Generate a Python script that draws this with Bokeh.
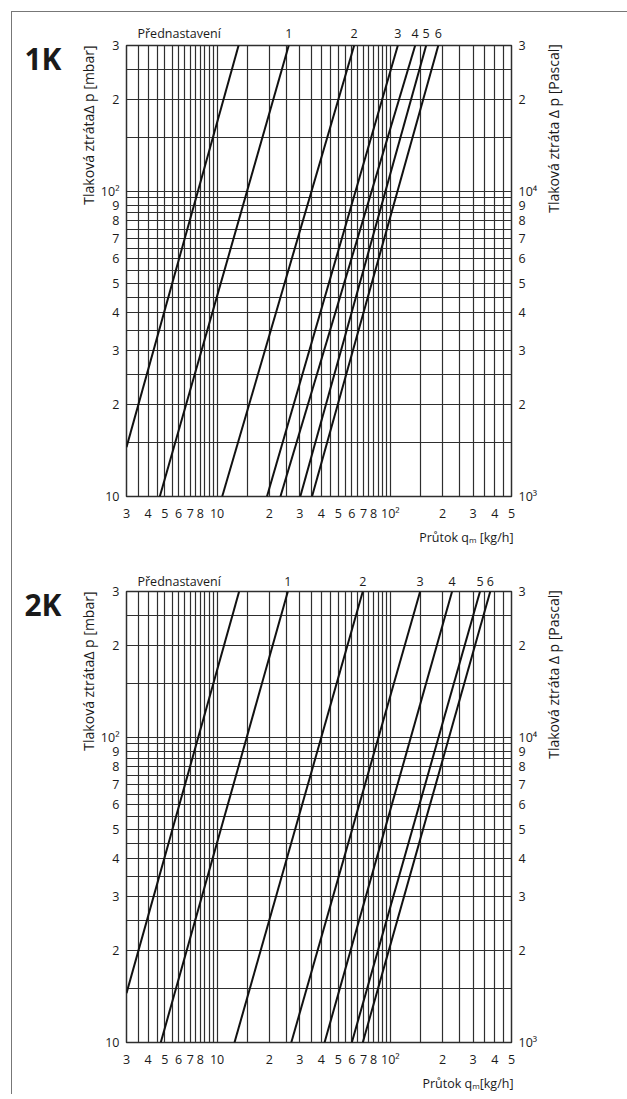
import math
from bokeh.plotting import figure
from bokeh.models import Range1d, LogScale, LogAxis, FixedTicker, Title
from bokeh.layouts import column
from bokeh.embed import file_html
from bokeh.resources import INLINE

FONT = "Open Sans"
INK = "#1a1a1a"
GRID = "#2e2e2e"
NBSP = "\u00a0"

# ---------------- data ----------------
x_ticks = [3, 4, 5, 6, 7, 8, 10, 20, 30, 40, 50, 60, 70, 80, 100, 200, 300, 400, 500]
x_tick_labels = ["3", "4", "5", "6", "7", "8", "10", "2", "3", "4", "5", "6", "7", "8",
                 "10\u00b2", "2", "3", "4", "5"]
y_ticks_mbar = [10, 20, 30, 40, 50, 60, 70, 80, 90, 100, 200, 300]
y_tick_labels_mbar = ["10", "2", "3", "4", "5", "6", "7", "8", "9", "10\u00b2", "2", "3"]
y_ticks_pa = [1000, 2000, 3000, 4000, 5000, 6000, 7000, 8000, 9000, 10000, 20000, 30000]
y_tick_labels_pa = ["10\u00b3", "2", "3", "4", "5", "6", "7", "8", "9", "10\u2074", "2", "3"]

grid_x = [3, 3.5, 4, 4.5, 5, 5.5, 6, 6.5, 7, 7.5, 8, 8.5, 9, 9.5, 10,
          15, 20, 25, 30, 35, 40, 45, 50, 55, 60, 65, 70, 75, 80, 85, 90, 95, 100,
          150, 200, 250, 300, 350, 400, 450, 500]
grid_y = [10, 15, 20, 25, 30, 35, 40, 45, 50, 55, 60, 65, 70, 75, 80, 85, 90, 95, 100,
          150, 200, 250, 300]

preset_title = "P\u0159ednastaven\u00ed"
preset_labels = ["", "1", "2", "3", "4", "5", "6"]

# 1K: presetting curves, start point and end point (q in kg/h, dp in mbar)
k1_q_start = [3.0, 4.67, 10.7, 19.4, 23.2, 30.2, 35.3]
k1_dp_start = [14.5, 10, 10, 10, 10, 10, 10]
k1_q_end = [13.3, 25.9, 61.8, 110.4, 139.0, 160.8, 189.0]
k1_dp_end = [300, 300, 300, 300, 300, 300, 300]

# 2K
k2_q_start = [3.0, 4.73, 12.6, 26.8, 41.7, 59.9, 69.3]
k2_dp_start = [14.5, 10, 10, 10, 10, 10, 10]
k2_q_end = [13.4, 25.6, 69.3, 148.5, 227.0, 329.0, 377.0]
k2_dp_end = [300, 300, 300, 300, 300, 300, 300]

# where the "Přednastavení" heading sits along the top scale (kg/h)
PRESET_TITLE_AT = 6.04

LEFT_TITLE = "Tlakov\u00e1 ztr\u00e1ta\u2206 p [mbar]"
RIGHT_TITLE = "Tlakov\u00e1 ztr\u00e1ta \u2206 p [Pascal]"


def has_prop(model, name):
    return name in model.properties()


def style_axis(ax, ticks, labels, standoff):
    ax.ticker = FixedTicker(ticks=ticks)
    ax.major_label_overrides = {t: l for t, l in zip(ticks, labels)}
    ax.axis_line_color = None
    ax.major_tick_line_color = None
    ax.minor_tick_line_color = None
    ax.major_tick_out = 0
    ax.major_tick_in = 0
    ax.minor_tick_out = 0
    ax.minor_tick_in = 0
    ax.major_label_standoff = standoff
    ax.major_label_text_font = FONT
    ax.major_label_text_font_size = "12.5px"
    ax.major_label_text_color = INK


def style_label(ax, text, size, standoff, align, orientation=None, bold=False, line_height=None):
    ax.axis_label = text
    ax.axis_label_text_font = FONT
    ax.axis_label_text_font_size = size
    ax.axis_label_text_font_style = "bold" if bold else "normal"
    ax.axis_label_text_color = INK
    ax.axis_label_standoff = standoff
    if line_height is not None:
        ax.axis_label_text_line_height = line_height
    if orientation is not None:
        ax.axis_label_orientation = orientation
    if has_prop(ax, "axis_label_align"):
        ax.axis_label_align = align


def side_title(text, align, standoff, offset=0, size="14px"):
    return Title(text=text, align=align, standoff=standoff, offset=offset,
                 text_font=FONT, text_font_size=size, text_font_style="normal",
                 text_color=INK)


def make_panel(name, q_start, dp_start, q_end, dp_end, border_top, border_bottom,
               top_standoff, xlabel_text):
    p = figure(x_axis_type="log", y_axis_type="log",
               x_range=Range1d(3, 500), y_range=Range1d(10, 300),
               frame_width=385, frame_height=451,
               min_border_left=114, min_border_right=116,
               min_border_top=border_top, min_border_bottom=border_bottom,
               output_backend="svg", toolbar_location=None)
    p.background_fill_color = "white"
    p.border_fill_color = "white"
    p.outline_line_color = GRID
    p.outline_line_width = 1.5

    p.extra_y_ranges = {"pa": Range1d(1000, 30000)}
    p.extra_y_scales = {"pa": LogScale()}

    style_axis(p.xaxis[0], x_ticks, x_tick_labels, 8)
    p.add_layout(side_title(xlabel_text, "right", 4, offset=-2, size="12.5px"), "below")

    style_axis(p.yaxis[0], y_ticks_mbar, y_tick_labels_mbar, 7)
    p.add_layout(side_title(LEFT_TITLE, "right", 0), "left")

    # panel name (1K / 2K) as a label-only axis further out on the left
    name_axis = LogAxis()
    style_axis(name_axis, [], [], 0)
    style_label(name_axis, "\n" + name, "30px", 15, "end", orientation="horizontal",
                bold=True, line_height=0.65)
    p.add_layout(name_axis, "left")

    right = LogAxis(y_range_name="pa")
    style_axis(right, y_ticks_pa, y_tick_labels_pa, 7)
    style_label(right, NBSP * 16 + RIGHT_TITLE, "14px", 13, "center",
                orientation=math.pi / 2)
    p.add_layout(right, "right")

    top = LogAxis()
    top_ticks = [PRESET_TITLE_AT] + q_end[1:]
    style_axis(top, top_ticks, [preset_title] + preset_labels[1:], top_standoff)
    p.add_layout(top, "above")

    p.xgrid.ticker = FixedTicker(ticks=grid_x)
    p.ygrid.ticker = FixedTicker(ticks=grid_y)
    for g in (p.xgrid[0], p.ygrid[0]):
        g.grid_line_color = GRID
        g.grid_line_width = 1.2
        g.grid_line_alpha = 1.0

    xs = [[a, b] for a, b in zip(q_start, q_end)]
    ys = [[a, b] for a, b in zip(dp_start, dp_end)]
    p.multi_line(xs=xs, ys=ys, line_color="#111111", line_width=2)
    return p


p1 = make_panel("1K", k1_q_start, k1_dp_start, k1_q_end, k1_dp_end, 33, 64, 4,
                "Pr\u016ftok q\u2098 [kg/h]")
p2 = make_panel("2K", k2_q_start, k2_dp_start, k2_q_end, k2_dp_end, 31, 52, 2,
                "Pr\u016ftok q\u2098[kg/h]")

layout = column(p1, p2, spacing=0, margin=(11, 0, 0, 11),
                styles={"border-top": "1px solid #777", "border-left": "1px solid #777"})

open("out.html", "w").write(file_html(layout, INLINE))
